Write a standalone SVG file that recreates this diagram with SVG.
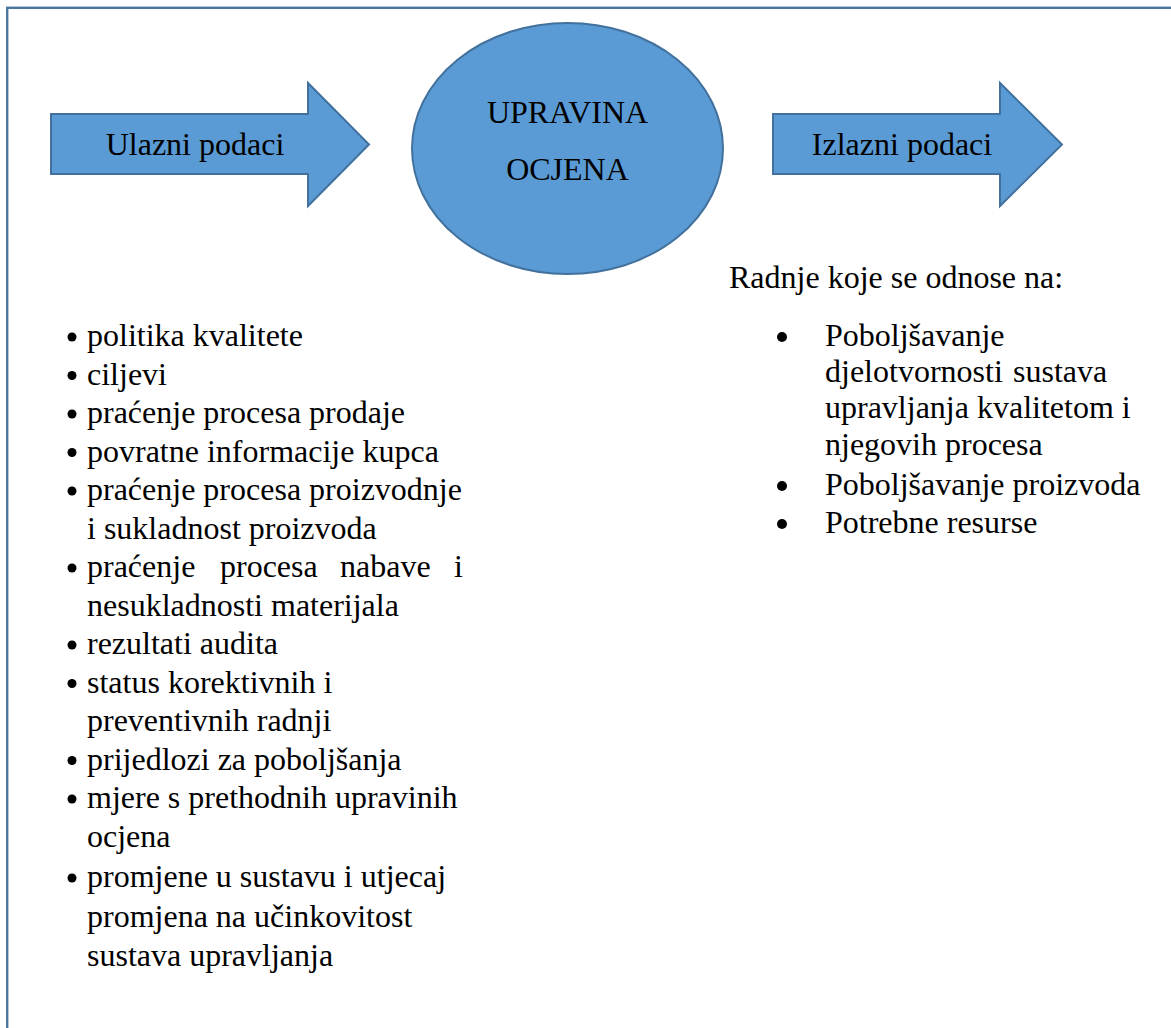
<svg xmlns="http://www.w3.org/2000/svg" width="1171" height="1028" viewBox="0 0 1171 1028" font-family="Liberation Serif, DejaVu Serif, serif">
<style>
.t{font-family:'Liberation Serif','DejaVu Serif',serif;font-size:32px;fill:#000}
.c{text-anchor:middle}
.shape{fill:#5B9BD5;stroke:#41719C;stroke-width:2}
.dot{fill:#000}
</style>
<rect x="0" y="0" width="1171" height="1028" fill="#fff"/>
<rect id="frame" x="7.2" y="7.8" width="1200" height="1100" fill="none" stroke="#4A76A0" stroke-width="2.4"/>
<g id="connectors"/>
<g id="node-ulazni">
<path class="shape" d="M51,114 H308 V83 L369,144.5 L308,206 V174 H51 Z"/>
<text class="t c" x="195" y="155">Ulazni podaci</text>
</g>
<g id="node-ocjena">
<ellipse class="shape" cx="567.5" cy="148.5" rx="155.5" ry="125.5"/>
<text class="t c" x="567.5" y="123">UPRAVINA</text>
<text class="t c" x="567.5" y="180">OCJENA</text>
</g>
<g id="node-izlazni">
<path class="shape" d="M773,114 H1000 V83 L1062,144.5 L1000,206 V174 H773 Z"/>
<text class="t c" x="902" y="155">Izlazni podaci</text>
</g>
<g id="input-list">
<g class="dot">
<circle cx="72" cy="337" r="4.5"/>
<circle cx="72" cy="375.5" r="4.5"/>
<circle cx="72" cy="414" r="4.5"/>
<circle cx="72" cy="452.5" r="4.5"/>
<circle cx="72" cy="491" r="4.5"/>
<circle cx="72" cy="568" r="4.5"/>
<circle cx="72" cy="645" r="4.5"/>
<circle cx="72" cy="683.5" r="4.5"/>
<circle cx="72" cy="760.5" r="4.5"/>
<circle cx="72" cy="799" r="4.5"/>
<circle cx="72" cy="878" r="4.5"/>
</g>
<text class="t" x="87" y="346">politika kvalitete</text>
<text class="t" x="87" y="384.5">ciljevi</text>
<text class="t" x="87" y="423">praćenje procesa prodaje</text>
<text class="t" x="87" y="461.5">povratne informacije kupca</text>
<text class="t" x="87" y="500">praćenje procesa proizvodnje</text>
<text class="t" x="87" y="538.5">i sukladnost proizvoda</text>
<text class="t" y="577"><tspan x="87">praćenje</tspan><tspan x="220">procesa</tspan><tspan x="340">nabave</tspan><tspan x="454">i</tspan></text>
<text class="t" x="87" y="615.5">nesukladnosti materijala</text>
<text class="t" x="87" y="654">rezultati audita</text>
<text class="t" x="87" y="692.5">status korektivnih i</text>
<text class="t" x="87" y="731">preventivnih radnji</text>
<text class="t" x="87" y="769.5">prijedlozi za poboljšanja</text>
<text class="t" x="87" y="808">mjere s prethodnih upravinih</text>
<text class="t" x="87" y="846.5">ocjena</text>
<text class="t" x="87" y="887">promjene u sustavu i utjecaj</text>
<text class="t" x="87" y="927">promjena na učinkovitost</text>
<text class="t" x="87" y="966">sustava upravljanja</text>
</g>
<g id="output-list">
<text class="t" x="729" y="288">Radnje koje se odnose na:</text>
<g class="dot">
<circle cx="782" cy="337" r="5"/>
<circle cx="782" cy="486" r="5"/>
<circle cx="782" cy="524" r="5"/>
</g>
<text class="t" x="825" y="346">Poboljšavanje</text>
<text class="t" y="382"><tspan x="825">djelotvornosti</tspan><tspan x="1013">sustava</tspan></text>
<text class="t" x="825" y="418">upravljanja kvalitetom i</text>
<text class="t" x="825" y="455">njegovih procesa</text>
<text class="t" x="825" y="495">Poboljšavanje proizvoda</text>
<text class="t" x="825" y="533">Potrebne resurse</text>
</g>
</svg>
